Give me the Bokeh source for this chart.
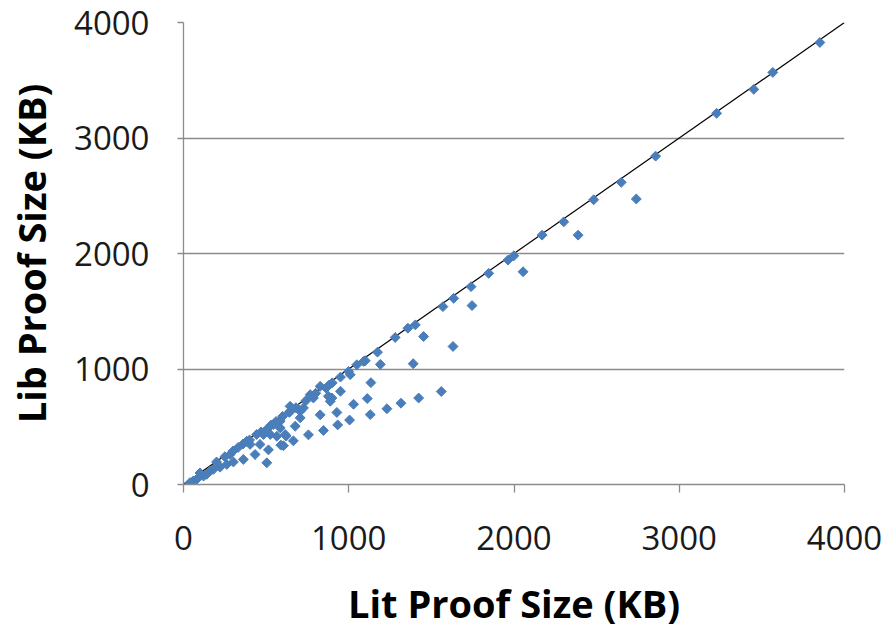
import numpy as np
from bokeh.plotting import figure
from bokeh.models import Range1d, FixedTicker
from bokeh.embed import file_html
from bokeh.resources import INLINE

# Lit proof size (KB) vs Lib proof size (KB)
lit_kb = [3851, 3566, 3451, 3226, 2857, 2649, 2740, 2482, 2301, 2388, 2170, 1964, 1999,
          2055, 1847, 1740, 1746, 1635, 1570, 1631, 1560, 1403, 1358, 1453, 1281, 1174,
          1191, 1390, 1100, 1049, 999, 1090, 1009, 1134, 950, 1423, 1316, 1231, 1130,
          1112, 1029, 1005, 933, 847, 756, 665, 605, 898, 888, 877, 928, 827, 863, 827,
          786, 767, 726, 706, 706, 645, 696, 621, 615, 589, 565, 544, 585, 565, 585,
          525, 514, 504, 484, 443, 463, 433, 403, 383, 362, 302, 282, 262, 221, 181,
          161, 140, 121, 80, 59, 39, 676, 646, 504,
          100, 200, 250, 300, 330, 360, 400, 470, 530, 560, 600, 640, 680, 740, 800,
          900, 950, 880]
lib_kb = [3827, 3568, 3421, 3214, 2843, 2616, 2472, 2465, 2274, 2159, 2159, 1943, 1980,
          1842, 1828, 1713, 1549, 1612, 1540, 1195, 805, 1382, 1353, 1281, 1273, 1146,
          1040, 1046, 1072, 1037, 979, 1066, 951, 882, 807, 749, 704, 656, 605,
          744, 695, 558, 516, 468, 430, 378, 336, 749, 720, 764, 624, 603, 835, 850,
          749, 778, 663, 634, 577, 677, 649, 419, 433, 341, 418, 519, 490, 533, 548,
          433, 300, 188, 433, 433, 347, 260, 347, 375, 217, 195, 260, 174, 150, 131,
          116, 88, 73, 45, 30, 16, 505, 634, 476,
          100, 195, 240, 290, 320, 350, 385, 455, 515, 545, 590, 625, 665, 725, 790,
          880, 930, 860]

# reference line y = x
diag_x = [0, 4000]
diag_y = [0, 4000]

ticks = [0, 1000, 2000, 3000, 4000]

p = figure(width=886, height=632, output_backend="svg", toolbar_location=None,
           x_range=Range1d(0, 4000), y_range=Range1d(0, 4000),
           min_border_left=183, min_border_right=42, min_border_top=22, min_border_bottom=148)
p.outline_line_color = None
p.background_fill_color = "white"
p.border_fill_color = "white"

p.xgrid.grid_line_color = None
p.ygrid.grid_line_color = "#8c8c8c"
p.ygrid.grid_line_width = 1.3
p.ygrid.ticker = FixedTicker(ticks=ticks)

for ax in (p.xaxis, p.yaxis):
    ax.ticker = FixedTicker(ticks=ticks)
    ax.axis_line_color = "#8c8c8c"
    ax.axis_line_width = 1.3
    ax.major_tick_line_color = "#8c8c8c"
    ax.major_tick_line_width = 1.3
    ax.major_tick_in = 0
    ax.minor_tick_line_color = None
    ax.major_label_text_font = "Open Sans"
    ax.major_label_text_font_size = "33px"
    ax.major_label_text_color = "#1a1a1a"
    ax.axis_label_text_font = "Open Sans"
    ax.axis_label_text_font_style = "bold"
    ax.axis_label_text_font_size = "38px"
    ax.axis_label_text_color = "black"

p.xaxis.major_tick_out = 8
p.yaxis.major_tick_out = 6
p.xaxis.major_label_standoff = 33
p.yaxis.major_label_standoff = 28
p.xaxis.axis_label = "Lit Proof Size (KB)"
p.yaxis.axis_label = "Lib Proof Size (KB)"
p.xaxis.axis_label_standoff = 24
p.yaxis.axis_label_standoff = 14

p.line(diag_x, diag_y, line_color="black", line_width=1.2)
p.scatter(lit_kb, lib_kb, marker="square", angle=np.pi / 4, size=7,
          fill_color="#4a7ebb", line_color="#4a7ebb")

open("out.html", "w").write(file_html(p, INLINE))
